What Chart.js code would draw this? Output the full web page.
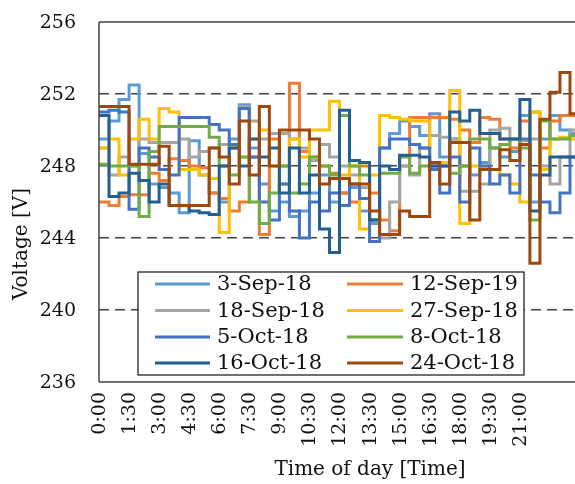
<!DOCTYPE html>
<html>
<head>
<meta charset="utf-8">
<script src="https://cdn.jsdelivr.net/npm/chart.js@4"></script>
<style>
  html, body { margin: 0; padding: 0; background: #fff; overflow: hidden; }
  #wrap { width: 575px; height: 484px; }
</style>
</head>
<body>
<div id="wrap"><canvas id="myChart" width="575" height="484"></canvas></div>
<script>
// sampling grid: minutes after midnight, every 30 min
const times = Array.from({ length: 49 }, (_, i) => i * 30);

const tickLabels = ["0:00", "1:30", "3:00", "4:30", "6:00", "7:30", "9:00", "10:30",
	"12:00", "13:30", "15:00", "16:30", "18:00", "19:30", "21:00", "22:30"];

const seriesNames = ["3-Sep-18", "12-Sep-19", "18-Sep-18", "27-Sep-18",
	"5-Oct-18", "8-Oct-18", "16-Oct-18", "24-Oct-18"];

const seriesColors = ["#5B9BD5", "#ED7D31", "#A5A5A5", "#FFC000",
	"#4472C4", "#70AD47", "#255E91", "#9E480E"];

const sep03 = [249.5, 250.5, 251.7, 252.5, 248.7, 247.0, 246.8, 246.5, 245.4, 249.4,
	247.5, 246.5, 246.0, 249.5, 251.4, 249.0, 247.0, 245.5, 246.0, 245.2,
	245.5, 246.5, 247.5, 246.0, 246.5, 246.8, 245.5, 244.8, 249.0, 249.8,
	250.5, 250.2, 249.7, 250.9, 248.5, 249.5, 248.0, 247.5, 248.2, 249.0,
	248.5, 248.8, 250.8, 246.0, 249.5, 250.8, 250.0, 249.8, 249.8];

const sep12 = [246.0, 245.8, 246.3, 246.4, 246.4, 247.6, 247.2, 248.4, 248.3, 248.0,
	247.9, 246.5, 246.2, 245.5, 246.0, 248.5, 244.2, 249.5, 248.0, 252.6,
	248.8, 248.5, 248.0, 247.6, 246.5, 246.0, 248.0, 246.5, 245.0, 244.4,
	248.0, 250.7, 250.7, 250.7, 250.7, 250.6, 250.0, 249.3, 250.7, 250.6,
	249.5, 249.0, 250.5, 251.0, 249.0, 250.5, 250.8, 250.8, 250.8];

const sep18 = [249.0, 247.5, 248.5, 248.0, 249.5, 249.3, 249.3, 249.3, 249.5, 248.5,
	248.8, 249.0, 249.2, 249.0, 251.3, 250.5, 249.5, 249.8, 249.8, 249.5,
	249.0, 248.3, 249.2, 248.5, 248.0, 247.5, 246.8, 245.0, 244.0, 246.0,
	248.0, 247.5, 249.0, 249.7, 249.6, 249.5, 246.6, 246.6, 247.0, 250.0,
	250.1, 249.5, 249.4, 249.5, 248.0, 247.0, 248.5, 250.0, 251.5];

const sep27 = [249.0, 249.5, 247.5, 249.5, 250.6, 249.5, 251.2, 251.0, 247.8, 247.8,
	247.5, 247.3, 244.3, 249.0, 248.5, 249.5, 250.0, 248.0, 247.0, 249.5,
	248.5, 250.0, 250.0, 251.6, 247.5, 248.0, 244.5, 247.5, 250.8, 250.7,
	250.6, 250.5, 250.5, 248.0, 248.2, 252.2, 244.8, 248.0, 248.0, 247.8,
	247.5, 247.0, 246.0, 251.0, 247.8, 249.5, 249.6, 249.5, 249.5];

const oct05 = [251.0, 251.1, 251.0, 245.6, 249.0, 248.5, 247.8, 247.5, 250.7, 250.7,
	250.7, 250.3, 250.0, 249.2, 251.2, 248.5, 246.0, 245.0, 247.0, 245.5,
	244.0, 246.0, 245.5, 246.5, 245.8, 247.0, 246.2, 243.8, 249.0, 249.5,
	249.5, 249.2, 249.0, 247.8, 246.5, 248.5, 246.0, 249.0, 248.0, 247.0,
	247.5, 246.5, 249.5, 247.5, 246.0, 245.4, 246.5, 248.5, 249.0];

const oct08 = [248.1, 248.0, 248.0, 248.0, 245.2, 248.8, 250.2, 250.2, 250.2, 250.2,
	250.2, 249.6, 248.0, 247.5, 248.5, 246.0, 244.8, 246.5, 248.0, 246.5,
	247.0, 248.5, 248.0, 247.5, 250.8, 248.0, 247.5, 245.0, 247.6, 247.6,
	248.5, 247.6, 248.0, 248.0, 248.0, 247.6, 248.0, 249.5, 249.5, 249.0,
	249.2, 249.5, 249.0, 245.0, 250.5, 249.5, 249.5, 249.7, 249.7];

const oct16 = [250.8, 246.3, 246.5, 247.6, 247.2, 246.0, 247.0, 245.8, 245.8, 245.5,
	245.4, 245.3, 248.0, 249.0, 248.0, 249.5, 248.5, 249.0, 246.5, 249.0,
	246.5, 247.5, 244.5, 243.2, 251.1, 248.3, 248.2, 245.0, 248.0, 247.8,
	248.6, 248.6, 248.5, 248.0, 248.0, 251.0, 250.5, 251.1, 249.8, 249.8,
	249.5, 249.5, 251.7, 245.5, 247.5, 248.5, 248.5, 248.5, 248.5];

const oct24 = [251.3, 251.3, 251.3, 248.1, 248.1, 248.1, 249.1, 245.8, 245.8, 245.8,
	245.8, 249.0, 248.5, 247.0, 250.5, 247.5, 251.3, 248.0, 250.0, 250.0,
	250.0, 249.5, 247.0, 247.3, 247.3, 247.0, 247.0, 245.5, 244.2, 244.2,
	245.5, 245.2, 245.2, 248.2, 247.0, 249.3, 249.3, 245.0, 247.8, 247.8,
	248.9, 248.3, 249.2, 242.6, 250.6, 252.1, 253.2, 250.9, 250.9];

const seriesValues = [sep03, sep12, sep18, sep27, oct05, oct08, oct16, oct24];

const serif = "'DejaVu Serif', 'Liberation Serif', serif";

const datasets = seriesNames.map((name, k) => ({
	label: name,
	data: seriesValues[k].map((v, i) => ({ x: times[i], y: v })),
	borderColor: seriesColors[k],
	backgroundColor: seriesColors[k],
	borderWidth: 3,
	pointRadius: 0,
	stepped: true,
	fill: false,
	order: seriesNames.length - k,
}));

// frame, tick labels, axis titles and the boxed legend inside the plot
const extras = {
	id: "extras",
	afterDatasetsDraw(chart) {
		const { ctx, chartArea: a } = chart;
		const xs = chart.scales.x, ys = chart.scales.y;
		ctx.save();
		ctx.strokeStyle = "#444";
		ctx.lineWidth = 1.5;
		ctx.beginPath();
		ctx.moveTo(a.left, a.top);
		ctx.lineTo(a.right, a.top);
		ctx.moveTo(a.left, a.bottom);
		ctx.lineTo(a.right, a.bottom);
		ctx.moveTo(a.left, a.top);
		ctx.lineTo(a.left, a.bottom);
		ctx.stroke();

		// y tick labels
		ctx.fillStyle = "#111";
		ctx.font = "19px " + serif;
		ctx.textAlign = "right";
		ctx.textBaseline = "middle";
		ys.ticks.forEach((t) => {
			ctx.fillText(String(t.value), 76, ys.getPixelForValue(t.value) + 1);
		});

		// legend
		const bx = 138, by = 272, bw = 386, bh = 103;
		ctx.fillStyle = "#fff";
		ctx.fillRect(bx, by, bw, bh);
		ctx.strokeStyle = "#111";
		ctx.lineWidth = 1.2;
		ctx.strokeRect(bx, by, bw, bh);
		ctx.font = "21px " + serif;
		ctx.textAlign = "left";
		const rows = [284, 310.5, 337, 363];
		const cols = [[155, 210, 217], [347, 403, 410]];
		seriesNames.forEach((name, k) => {
			const r = Math.floor(k / 2), c = k % 2;
			ctx.strokeStyle = seriesColors[k];
			ctx.lineWidth = 3;
			ctx.beginPath();
			ctx.moveTo(cols[c][0], rows[r]);
			ctx.lineTo(cols[c][1], rows[r]);
			ctx.stroke();
			ctx.fillStyle = "#111";
			ctx.fillText(name, cols[c][2], rows[r] + 1);
		});

		// x axis title
		ctx.fillStyle = "#111";
		ctx.font = "20px " + serif;
		ctx.textAlign = "center";
		ctx.fillText("Time of day [Time]", 370, 470);

		// everything below is drawn in a frame turned a quarter turn
		ctx.rotate(-Math.PI / 2);
		ctx.fillText("Voltage [V]", -244, 22);

		// x tick labels read bottom to top; their top end sits under the axis
		ctx.font = "19px " + serif;
		ctx.textAlign = "right";
		xs.ticks.forEach((t) => {
			const lab = tickLabels[Math.round(t.value / 90)];
			if (!lab || t.value % 90 !== 0) return;
			ctx.fillText(lab, -(a.bottom + 10), xs.getPixelForValue(t.value) + 1);
		});
		ctx.restore();
	},
};

const config = {
	type: "line",
	data: { datasets },
	options: {
		responsive: false,
		animation: false,
		layout: { padding: { left: 0, right: 0, top: 22, bottom: 0 } },
		plugins: {
			legend: { display: false },
			tooltip: { enabled: false },
		},
		scales: {
			x: {
				type: "linear",
				min: 0,
				max: 1425,
				afterFit: (s) => { s.height = 102; s.paddingLeft = 0; s.paddingRight = 0; },
				grid: { display: false, drawTicks: false },
				border: { display: false },
				ticks: {
					stepSize: 90,
					autoSkip: false,
					maxRotation: 0,
					color: "rgba(0,0,0,0)",
					font: { family: serif, size: 8 },
				},
			},
			y: {
				min: 236,
				max: 256,
				afterFit: (s) => { s.width = 99; s.paddingTop = 0; s.paddingBottom = 0; },
				grid: {
					drawTicks: false,
					lineWidth: 1.5,
					color: (c) => (c.tick && (c.tick.value === 236 || c.tick.value === 256)) ? "rgba(0,0,0,0)" : "#444",
				},
				border: { display: false, dash: [10, 6] },
				ticks: {
					stepSize: 4,
					color: "rgba(0,0,0,0)",
					font: { family: serif, size: 8 },
				},
			},
		},
	},
	plugins: [extras],
};

var myChart = new Chart(document.getElementById("myChart"), config);
</script>
</body>
</html>
